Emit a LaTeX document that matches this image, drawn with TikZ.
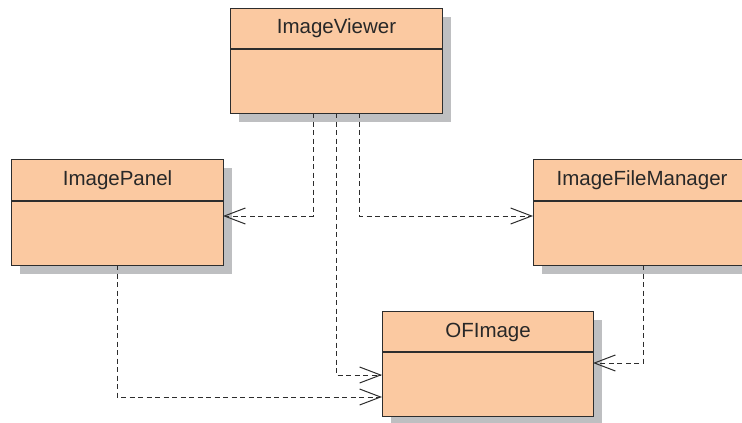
\documentclass[tikz,border=0pt]{standalone}
\usepackage{fontspec}
\setmainfont{Liberation Sans}
\usetikzlibrary{arrows.meta,shadows}
\definecolor{peach}{RGB}{251,201,161}
\definecolor{edge}{RGB}{45,45,45}
\definecolor{shadowgray}{RGB}{190,191,193}
\definecolor{txt}{RGB}{40,40,40}
\tikzset{
  cls/.style={draw=edge, line width=1.1pt, fill=peach, rectangle, inner sep=0pt, anchor=north west,
    drop shadow={shadow xshift=8pt, shadow yshift=-8pt, fill=shadowgray, opacity=1}},
  clstitle/.style={anchor=base, text=txt, font=\fontsize{20.5}{23}\selectfont, inner sep=0pt},
  divider/.style={draw=edge, line width=1.1pt},
  dep/.style={draw=edge, line width=1pt, dash pattern=on 5pt off 3.5pt,
    -{Straight Barb[length=21pt, width=16pt, line width=1pt]}},
}
\begin{document}
\begin{tikzpicture}[x=1pt,y=-1pt]
\useasboundingbox (0,0) rectangle (742,423);
\clip (0,0) rectangle (742,423);
% classes
\node[cls, minimum width=212pt, minimum height=105pt] (iv) at (230,8) {};
\node[cls, minimum width=212pt, minimum height=106pt] (ip) at (11,159) {};
\node[cls, minimum width=217pt, minimum height=106pt] (ifm) at (533,159) {};
\node[cls, minimum width=211pt, minimum height=105pt] (of) at (382,311) {};
% dividers
\draw[divider] (iv.west |- 0,49) -- (iv.east |- 0,49);
\draw[divider] (ip.west |- 0,201) -- (ip.east |- 0,201);
\draw[divider] (ifm.west |- 0,201) -- (ifm.east |- 0,201);
\draw[divider] (of.west |- 0,352) -- (of.east |- 0,352);
% titles
\node[clstitle] (ivt) at (iv.north |- 0,34) {ImageViewer};
\node[clstitle] (ipt) at (ip.north |- 0,185) {ImagePanel};
\node[clstitle] (ifmt) at (ifm.north |- 0,185) {ImageFileManager};
\node[clstitle] (oft) at (of.north |- 0,337) {OFImage};
% connector coordinates
\coordinate (ivA) at (313,113);
\coordinate (ivB) at (336,113);
\coordinate (ivC) at (359,113);
\coordinate (ipS) at (117,265);
\coordinate (ifmS) at (643,265);
\coordinate (ipIn) at (223,216);
\coordinate (ifmIn) at (533,216);
\coordinate (ofInA) at (382,375);
\coordinate (ofInB) at (382,397);
\coordinate (ofInC) at (593,363);
% dependencies
\draw[dep] (ivA) |- (ipIn);
\draw[dep] (ivC) |- (ifmIn);
\draw[dep] (ivB) |- (ofInA);
\draw[dep] (ipS) |- (ofInB);
\draw[dep] (ifmS) |- (ofInC);
\end{tikzpicture}
\end{document}
